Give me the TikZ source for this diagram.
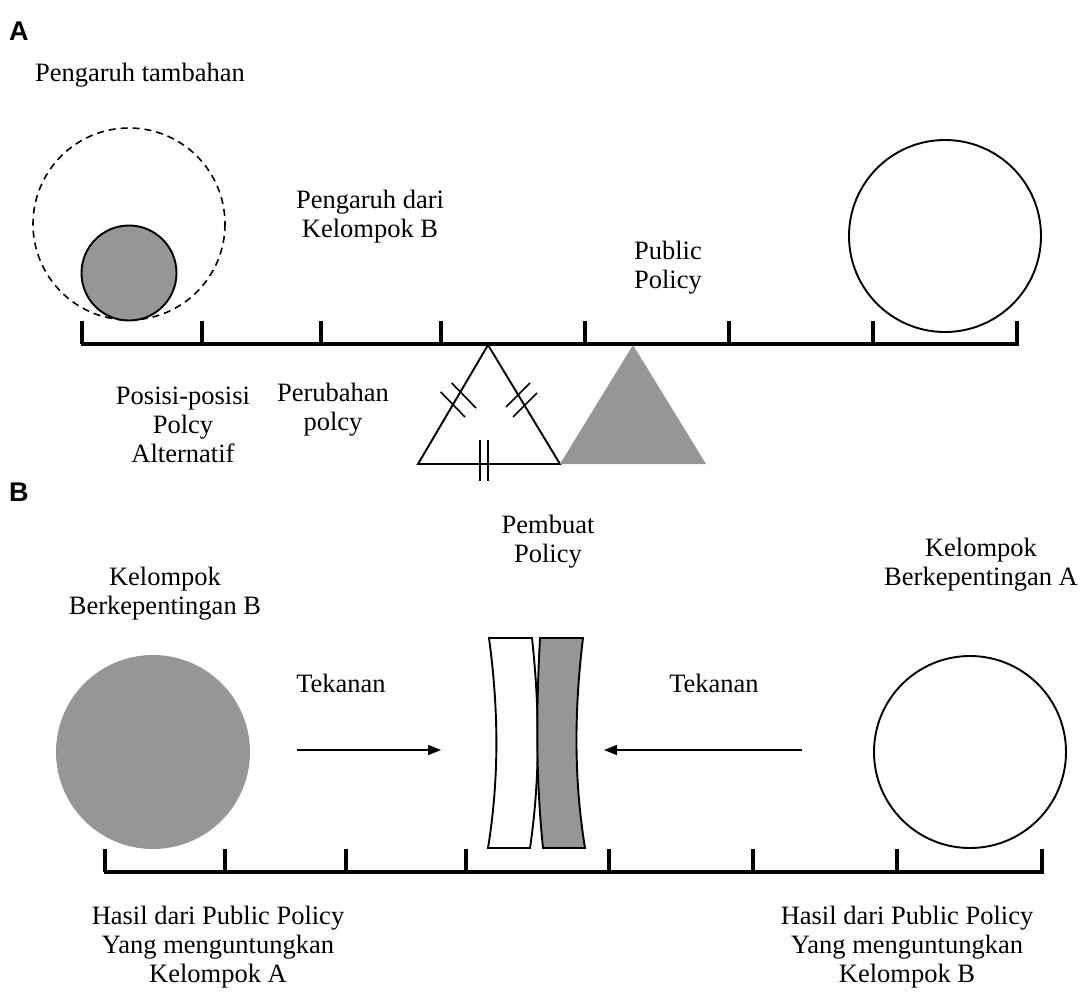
\documentclass[tikz,border=0pt]{standalone}
\usepackage{fontspec}
\setmainfont{Liberation Serif}
\newfontfamily\panelfont{Liberation Sans}
\usetikzlibrary{arrows.meta}
\definecolor{fillgray}{RGB}{150,150,150}

\begin{document}
\begin{tikzpicture}[x=1pt,y=-1pt,
  txt/.style={font=\fontsize{26.5}{29}\selectfont, align=center, inner sep=0pt},
  panel/.style={font=\panelfont\bfseries\fontsize{27}{30}\selectfont, inner sep=0pt, anchor=west},
  beam/.style={line width=3.3pt},
  outline/.style={line width=1.9pt},
  hash/.style={line width=1.6pt},
  push/.style={line width=1.6pt, -{Triangle[length=13pt,width=10pt]}}]
\useasboundingbox (0,0) rectangle (1082,996);

% ---------- panel A: the policy seesaw ----------
\node[panel] (labA) at (9,31) {A};
\node[txt] (extra) at (140,75) {Pengaruh tambahan};

% alternative positions on the beam
\draw[dashed, line width=1.6pt, dash pattern=on 7pt off 5pt] (129,224) circle (96);
\node[circle, draw, outline, fill=fillgray, minimum size=95pt, inner sep=0pt] (posB) at (129,273) {};
\node[circle, draw, outline, minimum size=192pt, inner sep=0pt] (posA) at (945,236) {};

% beam with tick marks
\draw[beam] (80.5,344) -- (1018.5,344);
\foreach \x in {82,202,321,441,585,729,873,1017}
  \draw[beam] (\x,344) -- (\x,321);

% fulcrum of the policy makers
\coordinate (apexW) at (488,345);
\coordinate (baseWL) at (418,464);
\coordinate (baseWR) at (560,464);
\draw[outline, line join=miter] (apexW) -- (baseWL) -- (baseWR) -- cycle;
\draw[hash] (440.7,392) -- (465,417);
\draw[hash] (451.7,383) -- (476,408);
\draw[hash] (506,407) -- (530,383);
\draw[hash] (513,417) -- (537,393);
\draw[hash] (480,440) -- (480,481);
\draw[hash] (488,440) -- (488,481);

% the public policy point
\fill[fillgray] (633,345) -- (560,464) -- (706,464) -- cycle;

\node[txt] (infB) at (370,217) {Pengaruh dari\\Kelompok B};
\node[txt] (pubpol) at (668,268) {Public\\Policy};
\node[txt] (altpos) at (183,425) {Posisi-posisi\\Polcy\\Alternatif};
\node[txt] (change) at (333,410) {Perubahan\\polcy};

% ---------- panel B: pressure on the policy makers ----------
\node[panel] (labB) at (9,492) {B};
\node[txt] (maker) at (548,542) {Pembuat\\Policy};
\node[txt] (grpB) at (165,594) {Kelompok\\Berkepentingan B};
\node[txt] (grpA) at (981,565) {Kelompok\\Berkepentingan A};

\node[circle, fill=fillgray, minimum size=194pt, inner sep=0pt] (circB) at (153,752) {};
\node[circle, draw, outline, minimum size=192pt, inner sep=0pt] (circA) at (970,752) {};

% the two bent plates of the policy makers
\draw[outline, fill=white, line join=miter]
  (489,638) -- (532,638) .. controls (540,712) and (540,780) .. (530,848)
  -- (488,848) .. controls (499,780) and (499,712) .. (489,638) -- cycle;
\draw[outline, fill=fillgray, line join=miter]
  (540,638) -- (583,638) .. controls (574,712) and (574,780) .. (585,848)
  -- (543,848) .. controls (536,780) and (536,712) .. (540,638) -- cycle;

% pressure arrows
\node[txt] (pressL) at (341,683) {Tekanan};
\node[txt] (pressR) at (714,683) {Tekanan};
\coordinate (pushL0) at (297,750);
\coordinate (pushL1) at (441,750);
\coordinate (pushR0) at (802,750);
\coordinate (pushR1) at (604,750);
\draw[push] (pushL0) -- (pushL1);
\draw[push] (pushR0) -- (pushR1);

% outcome beam
\draw[beam] (103.5,872) -- (1043.5,872);
\foreach \x in {105,225,346,466,609,753,897,1042}
  \draw[beam] (\x,872) -- (\x,849);

\node[txt] (outA) at (218,947) {Hasil dari Public Policy\\Yang menguntungkan\\Kelompok A};
\node[txt] (outB) at (907,947) {Hasil dari Public Policy\\Yang menguntungkan\\Kelompok B};
\end{tikzpicture}
\end{document}
